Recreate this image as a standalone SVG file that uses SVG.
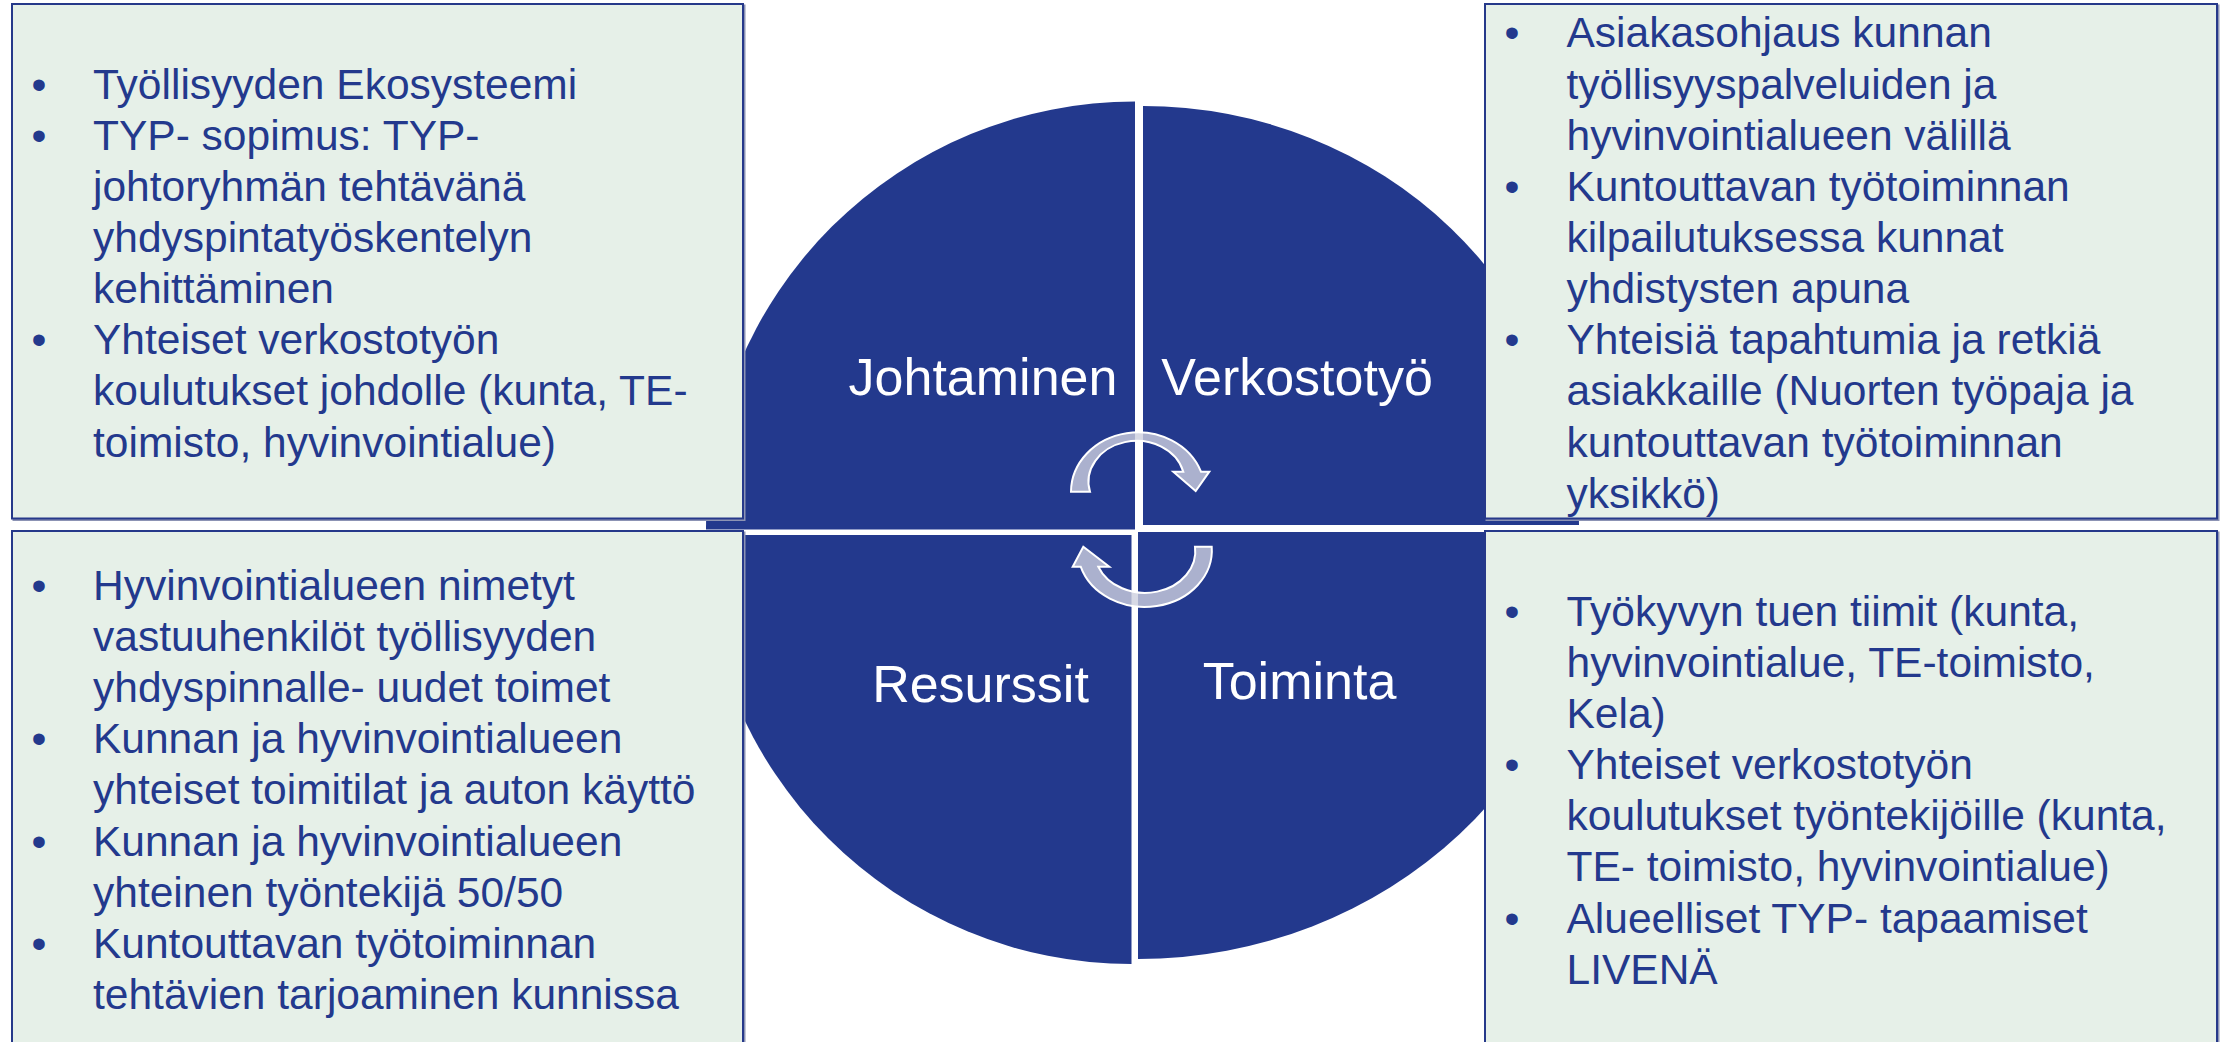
<svg xmlns="http://www.w3.org/2000/svg" width="2220" height="1042" viewBox="0 0 2220 1042">
<style>
.q{fill:#23398D}
.box{fill:#E6F0E8;stroke:#26398A;stroke-width:2}
.sh{fill:none;stroke:#8C93B4;stroke-width:2}
.t{font-family:"Liberation Sans",Arial,sans-serif;font-size:42.5px;fill:#23398D}
.b{text-anchor:middle}
.lbl{font-family:"Liberation Sans",Arial,sans-serif;font-size:52px;fill:#FFFFFF;text-anchor:middle}
.arr{fill:#CDCFDE;fill-opacity:0.8;stroke:#FFFFFF;stroke-width:2;stroke-linejoin:miter}
</style>
<rect width="2220" height="1042" fill="#FFFFFF"/>
<g id="quadrants">
<g id="q-johtaminen"><path class="q" d="M1135,529.5 L706,529.5 A429,428 0 0 1 1135,101.5 Z"/><text class="lbl" x="983" y="394.6">Johtaminen</text></g>
<g id="q-verkostotyo"><path class="q" d="M1143,525 L1143,106 A436,419 0 0 1 1579,525 Z"/><text class="lbl" x="1297" y="394.6">Verkostotyö</text></g>
<g id="q-resurssit"><path class="q" d="M1131.5,535 L1131.5,964 A429,429 0 0 1 702.5,535 Z"/><text class="lbl" x="980.5" y="701.6">Resurssit</text></g>
<g id="q-toiminta"><path class="q" d="M1138,532 L1593,532 A455,427 0 0 1 1138,959 Z"/><text class="lbl" x="1299.5" y="698.8">Toiminta</text></g>
</g>
<g id="connectors">
<path class="arr" d="M1071,491.7 A67,59.7 0 0 1 1201,471.7 L1209.3,471.7 L1195.7,491 L1173.3,471.7 L1183.3,471.7 A48,40.7 0 0 0 1090,491.7 Z"/>
<path class="arr" d="M1211.7,546.7 A67,56.6 0 0 1 1080.7,566.7 L1072.7,566.7 L1083.3,546.7 L1109.3,566.7 L1098.3,566.7 A50.3,41.6 0 0 0 1195,546.7 Z"/>
</g>
<g id="box-tl">
<rect class="sh" x="13.5" y="5.5" width="731" height="514.5"/>
<rect class="box" x="12" y="4" width="731" height="514.5"/>
<text class="t b" x="39" y="98.5">•</text>
<text class="t" x="93" y="98.5">Työllisyyden Ekosysteemi</text>
<text class="t b" x="39" y="149.7">•</text>
<text class="t" x="93" y="149.7">TYP- sopimus: TYP-</text>
<text class="t" x="93" y="200.8">johtoryhmän tehtävänä</text>
<text class="t" x="93" y="252">yhdyspintatyöskentelyn</text>
<text class="t" x="93" y="303.1">kehittäminen</text>
<text class="t b" x="39" y="354.3">•</text>
<text class="t" x="93" y="354.3">Yhteiset verkostotyön</text>
<text class="t" x="93" y="405.4">koulutukset johdolle (kunta, TE-</text>
<text class="t" x="93" y="456.6">toimisto, hyvinvointialue)</text>
</g>
<g id="box-tr">
<rect class="sh" x="1486.5" y="5.5" width="732" height="514.5"/>
<rect class="box" x="1485" y="4" width="732" height="514.5"/>
<text class="t b" x="1512" y="47.3">•</text>
<text class="t" x="1566.5" y="47.3">Asiakasohjaus kunnan</text>
<text class="t" x="1566.5" y="98.5">työllisyyspalveluiden ja</text>
<text class="t" x="1566.5" y="149.6">hyvinvointialueen välillä</text>
<text class="t b" x="1512" y="200.8">•</text>
<text class="t" x="1566.5" y="200.8">Kuntouttavan työtoiminnan</text>
<text class="t" x="1566.5" y="251.9">kilpailutuksessa kunnat</text>
<text class="t" x="1566.5" y="303.1">yhdistysten apuna</text>
<text class="t b" x="1512" y="354.2">•</text>
<text class="t" x="1566.5" y="354.2">Yhteisiä tapahtumia ja retkiä</text>
<text class="t" x="1566.5" y="405.4">asiakkaille (Nuorten työpaja ja</text>
<text class="t" x="1566.5" y="456.5">kuntouttavan työtoiminnan</text>
<text class="t" x="1566.5" y="507.7">yksikkö)</text>
</g>
<g id="box-bl">
<rect class="sh" x="13.5" y="532.5" width="731" height="520"/>
<rect class="box" x="12" y="531" width="731" height="520"/>
<text class="t b" x="39" y="600">•</text>
<text class="t" x="93" y="600">Hyvinvointialueen nimetyt</text>
<text class="t" x="93" y="651">vastuuhenkilöt työllisyyden</text>
<text class="t" x="93" y="702">yhdyspinnalle- uudet toimet</text>
<text class="t b" x="39" y="753">•</text>
<text class="t" x="93" y="753">Kunnan ja hyvinvointialueen</text>
<text class="t" x="93" y="804">yhteiset toimitilat ja auton käyttö</text>
<text class="t b" x="39" y="855.5">•</text>
<text class="t" x="93" y="855.5">Kunnan ja hyvinvointialueen</text>
<text class="t" x="93" y="906.5">yhteinen työntekijä 50/50</text>
<text class="t b" x="39" y="957.5">•</text>
<text class="t" x="93" y="957.5">Kuntouttavan työtoiminnan</text>
<text class="t" x="93" y="1008.7">tehtävien tarjoaminen kunnissa</text>
</g>
<g id="box-br">
<rect class="sh" x="1486.5" y="532.5" width="732" height="520"/>
<rect class="box" x="1485" y="531" width="732" height="520"/>
<text class="t b" x="1512" y="626">•</text>
<text class="t" x="1566.5" y="626">Työkyvyn tuen tiimit (kunta,</text>
<text class="t" x="1566.5" y="677">hyvinvointialue, TE-toimisto,</text>
<text class="t" x="1566.5" y="728">Kela)</text>
<text class="t b" x="1512" y="779">•</text>
<text class="t" x="1566.5" y="779">Yhteiset verkostotyön</text>
<text class="t" x="1566.5" y="830">koulutukset työntekijöille (kunta,</text>
<text class="t" x="1566.5" y="881">TE- toimisto, hyvinvointialue)</text>
<text class="t b" x="1512" y="932.5">•</text>
<text class="t" x="1566.5" y="932.5">Alueelliset TYP- tapaamiset</text>
<text class="t" x="1566.5" y="983.5">LIVENÄ</text>
</g>
</svg>
